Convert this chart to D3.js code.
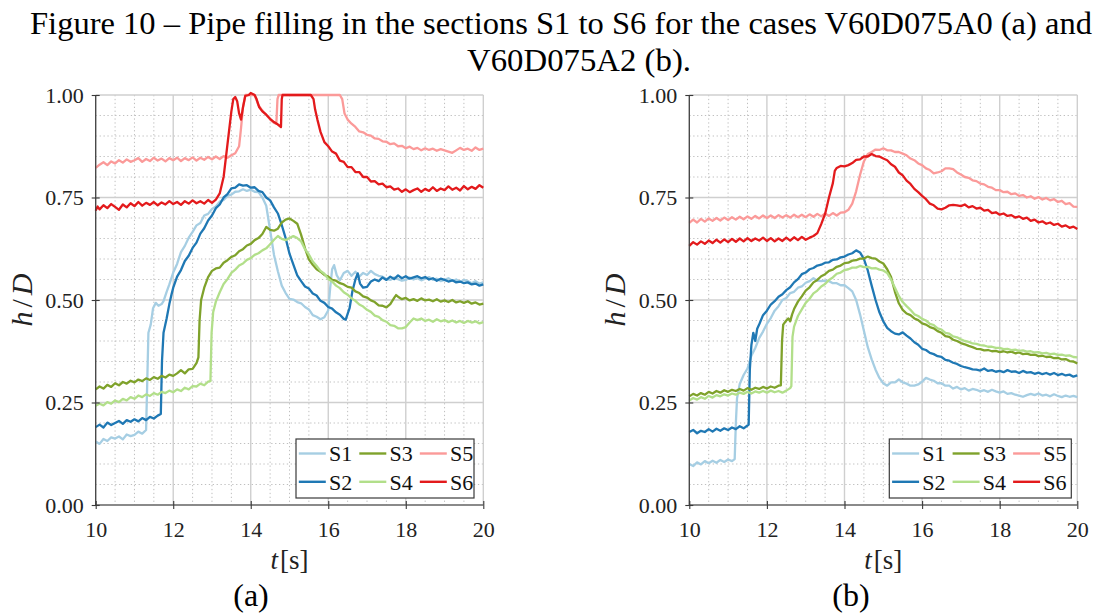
<!DOCTYPE html>
<html>
<head>
<meta charset="utf-8">
<script src="https://cdn.jsdelivr.net/npm/d3@7"></script>
<style>
  html, body { margin: 0; padding: 0; background: #ffffff; }
  svg { display: block; }
  text { font-family: "Liberation Serif", "Times New Roman", serif; }
</style>
</head>
<body>
<svg id="fig" width="1102" height="614"></svg>
<script>
// ---- data -------------------------------------------------------------
const titleLines = [
  "Figure 10 \u2013 Pipe filling in the sections S1 to S6 for the cases V60D075A0 (a) and",
  "V60D075A2 (b)."
];
const timeTicks = [10, 12, 14, 16, 18, 20];
const levelTicks = [0, 0.25, 0.5, 0.75, 1.0];
const sectionNames = ["S1", "S2", "S3", "S4", "S5", "S6"];
const sectionColors = ["#a6cee3", "#1f78b4", "#7fa22b", "#b2df8a", "#fb9a99", "#e31a1c"];
const panelCaptions = ["(a)", "(b)"];

// case V60D075A0 : [t (s), h/D]
const caseA_S1 = [[10.0,0.155],[10.1,0.149],[10.2,0.161],[10.3,0.156],[10.4,0.165],[10.5,0.162],[10.6,0.167],[10.7,0.16],[10.8,0.172],[10.9,0.168],[11.0,0.171],[11.1,0.179],[11.2,0.174],[11.3,0.183],[11.33,0.3],[11.36,0.42],[11.42,0.44],[11.48,0.48],[11.55,0.493],[11.62,0.486],[11.7,0.49],[11.75,0.497],[11.83,0.52],[11.9,0.538],[12.0,0.567],[12.1,0.588],[12.2,0.617],[12.3,0.632],[12.4,0.652],[12.5,0.666],[12.6,0.682],[12.7,0.688],[12.8,0.706],[12.9,0.71],[13.0,0.722],[13.1,0.728],[13.2,0.74],[13.3,0.744],[13.4,0.754],[13.5,0.757],[13.6,0.764],[13.7,0.765],[13.8,0.77],[13.9,0.766],[14.0,0.769],[14.1,0.764],[14.2,0.763],[14.3,0.75],[14.4,0.73],[14.5,0.67],[14.6,0.61],[14.7,0.57],[14.8,0.535],[14.9,0.517],[15.0,0.503],[15.1,0.501],[15.2,0.495],[15.3,0.492],[15.4,0.483],[15.5,0.477],[15.6,0.463],[15.7,0.459],[15.8,0.453],[15.9,0.458],[16.0,0.475],[16.05,0.53],[16.1,0.575],[16.15,0.585],[16.22,0.56],[16.3,0.548],[16.4,0.566],[16.5,0.571],[16.6,0.559],[16.7,0.569],[16.8,0.557],[16.9,0.566],[17.0,0.561],[17.1,0.571],[17.2,0.563],[17.3,0.559],[17.4,0.557],[17.5,0.551],[17.6,0.549],[17.7,0.555],[17.8,0.551],[17.9,0.547],[18.0,0.549],[18.1,0.555],[18.2,0.55],[18.3,0.553],[18.4,0.548],[18.5,0.552],[18.6,0.556],[18.7,0.549],[18.8,0.552],[18.9,0.546],[19.0,0.549],[19.1,0.553],[19.2,0.547],[19.3,0.55],[19.4,0.544],[19.5,0.549],[19.6,0.546],[19.7,0.541],[19.8,0.546],[19.9,0.54],[20.0,0.543]];
const caseA_S2 = [[10.0,0.19],[10.1,0.196],[10.2,0.189],[10.3,0.201],[10.4,0.195],[10.5,0.2],[10.6,0.205],[10.7,0.198],[10.8,0.207],[10.9,0.203],[11.0,0.209],[11.1,0.204],[11.2,0.212],[11.3,0.207],[11.4,0.215],[11.5,0.211],[11.6,0.218],[11.68,0.222],[11.71,0.35],[11.75,0.42],[11.83,0.455],[11.9,0.49],[11.96,0.515],[12.0,0.53],[12.1,0.557],[12.2,0.573],[12.3,0.595],[12.4,0.608],[12.5,0.627],[12.6,0.64],[12.7,0.662],[12.8,0.675],[12.9,0.694],[13.0,0.706],[13.1,0.724],[13.2,0.733],[13.3,0.75],[13.4,0.758],[13.5,0.772],[13.6,0.774],[13.7,0.782],[13.8,0.779],[13.9,0.78],[14.0,0.774],[14.1,0.775],[14.2,0.766],[14.3,0.763],[14.4,0.75],[14.5,0.743],[14.6,0.726],[14.7,0.711],[14.8,0.683],[14.9,0.651],[15.0,0.613],[15.1,0.586],[15.2,0.56],[15.3,0.546],[15.4,0.533],[15.5,0.528],[15.6,0.516],[15.7,0.511],[15.8,0.498],[15.9,0.493],[16.0,0.483],[16.1,0.479],[16.2,0.47],[16.3,0.464],[16.4,0.454],[16.45,0.452],[16.55,0.48],[16.62,0.52],[16.7,0.55],[16.76,0.565],[16.82,0.54],[16.9,0.53],[17.0,0.532],[17.1,0.545],[17.2,0.55],[17.3,0.546],[17.4,0.555],[17.5,0.549],[17.6,0.557],[17.7,0.551],[17.8,0.56],[17.9,0.553],[18.0,0.558],[18.1,0.552],[18.2,0.555],[18.3,0.558],[18.4,0.553],[18.5,0.556],[18.6,0.55],[18.7,0.553],[18.8,0.547],[18.9,0.552],[19.0,0.549],[19.1,0.545],[19.2,0.548],[19.3,0.543],[19.4,0.545],[19.5,0.541],[19.6,0.543],[19.7,0.538],[19.8,0.54],[19.9,0.535],[20.0,0.538]];
const caseA_S3 = [[10.0,0.282],[10.1,0.289],[10.2,0.284],[10.3,0.293],[10.4,0.288],[10.5,0.297],[10.6,0.292],[10.7,0.3],[10.8,0.296],[10.9,0.303],[11.0,0.299],[11.1,0.306],[11.2,0.302],[11.3,0.309],[11.4,0.305],[11.5,0.312],[11.6,0.308],[11.7,0.315],[11.8,0.311],[11.9,0.318],[12.0,0.315],[12.1,0.321],[12.2,0.329],[12.3,0.321],[12.4,0.331],[12.5,0.332],[12.6,0.346],[12.65,0.36],[12.68,0.45],[12.72,0.5],[12.8,0.53],[12.9,0.556],[13.0,0.571],[13.1,0.577],[13.2,0.579],[13.3,0.591],[13.4,0.597],[13.5,0.605],[13.6,0.609],[13.7,0.619],[13.8,0.624],[13.9,0.633],[14.0,0.637],[14.1,0.646],[14.2,0.651],[14.3,0.661],[14.4,0.678],[14.5,0.671],[14.6,0.669],[14.7,0.674],[14.8,0.689],[14.9,0.696],[15.0,0.699],[15.1,0.693],[15.2,0.686],[15.3,0.659],[15.4,0.626],[15.5,0.599],[15.6,0.586],[15.7,0.575],[15.8,0.569],[15.9,0.561],[16.0,0.557],[16.1,0.549],[16.2,0.547],[16.3,0.541],[16.4,0.538],[16.5,0.532],[16.6,0.53],[16.7,0.521],[16.8,0.517],[16.9,0.509],[17.0,0.506],[17.1,0.499],[17.2,0.495],[17.3,0.487],[17.4,0.486],[17.5,0.482],[17.6,0.49],[17.7,0.505],[17.75,0.512],[17.8,0.508],[17.9,0.502],[18.0,0.505],[18.1,0.499],[18.2,0.502],[18.3,0.498],[18.4,0.504],[18.5,0.499],[18.6,0.501],[18.7,0.497],[18.8,0.502],[18.9,0.496],[19.0,0.499],[19.1,0.495],[19.2,0.5],[19.3,0.494],[19.4,0.497],[19.5,0.493],[19.6,0.497],[19.7,0.491],[19.8,0.494],[19.9,0.489],[20.0,0.491]];
const caseA_S4 = [[10.0,0.242],[10.1,0.247],[10.2,0.243],[10.3,0.251],[10.4,0.247],[10.5,0.255],[10.6,0.251],[10.7,0.259],[10.8,0.255],[10.9,0.263],[11.0,0.259],[11.1,0.267],[11.2,0.263],[11.3,0.27],[11.4,0.266],[11.5,0.273],[11.6,0.269],[11.7,0.276],[11.8,0.273],[11.9,0.279],[12.0,0.275],[12.1,0.282],[12.2,0.278],[12.3,0.286],[12.4,0.282],[12.5,0.29],[12.6,0.289],[12.7,0.296],[12.8,0.292],[12.9,0.301],[12.96,0.302],[12.99,0.42],[13.03,0.47],[13.1,0.496],[13.2,0.519],[13.3,0.539],[13.4,0.551],[13.5,0.566],[13.6,0.574],[13.7,0.584],[13.8,0.589],[13.9,0.598],[14.0,0.602],[14.1,0.61],[14.2,0.614],[14.3,0.621],[14.4,0.626],[14.5,0.636],[14.6,0.647],[14.7,0.656],[14.8,0.649],[14.9,0.646],[15.0,0.651],[15.1,0.656],[15.2,0.651],[15.3,0.643],[15.4,0.624],[15.5,0.611],[15.6,0.594],[15.7,0.583],[15.8,0.571],[15.9,0.564],[16.0,0.551],[16.1,0.545],[16.2,0.535],[16.3,0.529],[16.4,0.519],[16.5,0.513],[16.6,0.504],[16.7,0.498],[16.8,0.489],[16.9,0.484],[17.0,0.476],[17.1,0.471],[17.2,0.462],[17.3,0.459],[17.4,0.451],[17.5,0.447],[17.6,0.439],[17.7,0.437],[17.8,0.431],[17.9,0.431],[18.0,0.434],[18.1,0.445],[18.2,0.455],[18.3,0.451],[18.4,0.455],[18.5,0.449],[18.6,0.452],[18.7,0.447],[18.8,0.453],[18.9,0.448],[19.0,0.451],[19.1,0.446],[19.2,0.45],[19.3,0.445],[19.4,0.449],[19.5,0.444],[19.6,0.449],[19.7,0.445],[19.8,0.448],[19.9,0.443],[20.0,0.446]];
const caseA_S5 = [[10.0,0.822],[10.1,0.83],[10.2,0.836],[10.3,0.829],[10.4,0.838],[10.5,0.833],[10.6,0.841],[10.7,0.835],[10.8,0.843],[10.9,0.837],[11.0,0.841],[11.1,0.846],[11.2,0.837],[11.3,0.844],[11.4,0.839],[11.5,0.847],[11.6,0.84],[11.7,0.845],[11.8,0.838],[11.9,0.846],[12.0,0.841],[12.1,0.847],[12.2,0.839],[12.3,0.846],[12.4,0.841],[12.5,0.848],[12.6,0.84],[12.7,0.847],[12.8,0.842],[12.9,0.849],[13.0,0.843],[13.1,0.85],[13.2,0.844],[13.3,0.851],[13.4,0.847],[13.5,0.853],[13.6,0.858],[13.7,0.875],[13.75,0.92],[13.8,0.97],[13.86,1.0],[14.1,1.0],[14.2,0.975],[14.3,0.962],[14.4,0.952],[14.5,0.94],[14.6,0.932],[14.66,0.93],[14.69,0.99],[14.72,1.0],[16.3,1.0],[16.36,0.99],[16.42,0.955],[16.5,0.94],[16.6,0.93],[16.7,0.922],[16.8,0.911],[16.9,0.909],[17.0,0.903],[17.1,0.901],[17.2,0.894],[17.3,0.893],[17.4,0.887],[17.5,0.886],[17.6,0.88],[17.7,0.882],[17.8,0.875],[17.9,0.876],[18.0,0.87],[18.1,0.874],[18.2,0.868],[18.3,0.871],[18.4,0.865],[18.5,0.87],[18.6,0.866],[18.7,0.869],[18.8,0.864],[18.9,0.868],[19.0,0.865],[19.1,0.862],[19.2,0.859],[19.3,0.865],[19.4,0.871],[19.5,0.866],[19.6,0.869],[19.7,0.864],[19.8,0.872],[19.9,0.866],[20.0,0.869]];
const caseA_S6 = [[10.0,0.718],[10.05,0.728],[10.1,0.721],[10.2,0.731],[10.3,0.724],[10.4,0.734],[10.5,0.727],[10.6,0.72],[10.7,0.733],[10.8,0.726],[10.9,0.736],[11.0,0.729],[11.1,0.739],[11.2,0.73],[11.3,0.737],[11.4,0.732],[11.5,0.739],[11.6,0.731],[11.7,0.738],[11.8,0.733],[11.9,0.741],[12.0,0.734],[12.1,0.739],[12.2,0.732],[12.3,0.741],[12.4,0.735],[12.5,0.743],[12.6,0.736],[12.7,0.741],[12.8,0.735],[12.9,0.744],[13.0,0.737],[13.1,0.745],[13.2,0.76],[13.3,0.8],[13.4,0.88],[13.5,0.96],[13.55,0.99],[13.6,0.995],[13.65,0.985],[13.7,0.955],[13.75,0.94],[13.8,0.97],[13.86,0.998],[13.95,1.0],[14.0,1.005],[14.1,1.0],[14.15,0.99],[14.22,0.97],[14.3,0.96],[14.4,0.952],[14.5,0.942],[14.6,0.934],[14.7,0.928],[14.78,0.922],[14.8,0.99],[14.82,1.0],[15.55,1.0],[15.62,0.99],[15.66,0.965],[15.72,0.94],[15.8,0.91],[15.9,0.885],[16.0,0.875],[16.1,0.862],[16.2,0.857],[16.3,0.84],[16.4,0.837],[16.5,0.824],[16.6,0.824],[16.7,0.812],[16.8,0.812],[16.9,0.8],[17.0,0.8],[17.1,0.789],[17.2,0.79],[17.3,0.782],[17.4,0.784],[17.5,0.775],[17.6,0.777],[17.7,0.769],[17.8,0.772],[17.9,0.764],[18.0,0.77],[18.1,0.763],[18.2,0.768],[18.3,0.772],[18.4,0.764],[18.5,0.771],[18.6,0.766],[18.7,0.775],[18.8,0.766],[18.9,0.772],[19.0,0.768],[19.1,0.777],[19.2,0.769],[19.3,0.774],[19.4,0.767],[19.5,0.778],[19.6,0.77],[19.7,0.776],[19.8,0.771],[19.9,0.78],[20.0,0.774]];

// case V60D075A2 : [t (s), h/D]
const caseB_S1 = [[10.0,0.1],[10.1,0.095],[10.2,0.104],[10.3,0.099],[10.4,0.107],[10.5,0.102],[10.6,0.108],[10.7,0.103],[10.8,0.11],[10.9,0.105],[11.0,0.111],[11.1,0.107],[11.17,0.112],[11.2,0.2],[11.23,0.26],[11.3,0.295],[11.4,0.317],[11.5,0.333],[11.6,0.364],[11.7,0.383],[11.8,0.407],[11.9,0.423],[12.0,0.442],[12.1,0.456],[12.2,0.474],[12.3,0.485],[12.4,0.5],[12.5,0.505],[12.6,0.517],[12.7,0.52],[12.8,0.53],[12.9,0.533],[13.0,0.542],[13.1,0.546],[13.2,0.553],[13.3,0.547],[13.4,0.546],[13.5,0.547],[13.6,0.546],[13.7,0.541],[13.8,0.541],[13.9,0.536],[14.0,0.536],[14.1,0.529],[14.2,0.521],[14.3,0.5],[14.4,0.465],[14.5,0.425],[14.6,0.385],[14.7,0.355],[14.8,0.33],[14.9,0.31],[15.0,0.297],[15.1,0.291],[15.2,0.299],[15.3,0.299],[15.4,0.306],[15.5,0.299],[15.6,0.296],[15.7,0.291],[15.8,0.291],[15.9,0.294],[16.0,0.301],[16.1,0.31],[16.2,0.306],[16.3,0.303],[16.4,0.297],[16.5,0.297],[16.6,0.291],[16.7,0.291],[16.8,0.284],[16.9,0.288],[17.0,0.282],[17.1,0.285],[17.2,0.279],[17.3,0.283],[17.4,0.281],[17.5,0.277],[17.6,0.28],[17.7,0.276],[17.8,0.281],[17.9,0.277],[18.0,0.274],[18.1,0.277],[18.2,0.271],[18.3,0.273],[18.4,0.269],[18.5,0.267],[18.6,0.264],[18.7,0.268],[18.8,0.271],[18.9,0.268],[19.0,0.272],[19.1,0.267],[19.2,0.269],[19.3,0.265],[19.4,0.27],[19.5,0.266],[19.6,0.263],[19.7,0.267],[19.8,0.264],[19.9,0.266],[20.0,0.263]];
const caseB_S2 = [[10.0,0.178],[10.1,0.183],[10.2,0.175],[10.3,0.181],[10.4,0.178],[10.5,0.185],[10.6,0.179],[10.7,0.186],[10.8,0.181],[10.9,0.187],[11.0,0.183],[11.1,0.189],[11.2,0.185],[11.3,0.192],[11.4,0.187],[11.5,0.194],[11.53,0.196],[11.56,0.33],[11.6,0.39],[11.65,0.42],[11.7,0.4],[11.75,0.43],[11.8,0.44],[11.9,0.463],[12.0,0.474],[12.1,0.489],[12.2,0.497],[12.3,0.508],[12.4,0.514],[12.5,0.524],[12.6,0.531],[12.7,0.543],[12.8,0.551],[12.9,0.563],[13.0,0.567],[13.1,0.575],[13.2,0.578],[13.3,0.584],[13.4,0.586],[13.5,0.591],[13.6,0.592],[13.7,0.598],[13.8,0.599],[13.9,0.604],[14.0,0.606],[14.1,0.611],[14.2,0.614],[14.3,0.621],[14.4,0.616],[14.5,0.6],[14.6,0.572],[14.7,0.535],[14.8,0.5],[14.9,0.47],[15.0,0.448],[15.1,0.432],[15.2,0.424],[15.3,0.418],[15.4,0.416],[15.5,0.421],[15.6,0.413],[15.7,0.406],[15.8,0.397],[15.9,0.391],[16.0,0.381],[16.1,0.378],[16.2,0.371],[16.3,0.368],[16.4,0.363],[16.5,0.361],[16.6,0.354],[16.7,0.352],[16.8,0.347],[16.9,0.344],[17.0,0.339],[17.1,0.336],[17.2,0.334],[17.3,0.331],[17.4,0.33],[17.5,0.328],[17.6,0.333],[17.7,0.327],[17.8,0.329],[17.9,0.325],[18.0,0.327],[18.1,0.324],[18.2,0.329],[18.3,0.325],[18.4,0.326],[18.5,0.322],[18.6,0.327],[18.7,0.323],[18.8,0.324],[18.9,0.32],[19.0,0.323],[19.1,0.319],[19.2,0.322],[19.3,0.318],[19.4,0.322],[19.5,0.317],[19.6,0.32],[19.7,0.316],[19.8,0.318],[19.9,0.313],[20.0,0.316]];
const caseB_S3 = [[10.0,0.265],[10.1,0.271],[10.2,0.267],[10.3,0.273],[10.4,0.269],[10.5,0.276],[10.6,0.272],[10.7,0.278],[10.8,0.274],[10.9,0.28],[11.0,0.276],[11.1,0.281],[11.2,0.278],[11.3,0.283],[11.4,0.279],[11.5,0.285],[11.6,0.281],[11.7,0.286],[11.8,0.283],[11.9,0.288],[12.0,0.284],[12.1,0.289],[12.2,0.286],[12.3,0.291],[12.36,0.292],[12.39,0.4],[12.42,0.44],[12.5,0.45],[12.55,0.455],[12.6,0.448],[12.65,0.465],[12.7,0.478],[12.8,0.496],[12.9,0.509],[13.0,0.523],[13.1,0.531],[13.2,0.543],[13.3,0.549],[13.4,0.558],[13.5,0.563],[13.6,0.571],[13.7,0.574],[13.8,0.581],[13.9,0.584],[14.0,0.59],[14.1,0.591],[14.2,0.596],[14.3,0.597],[14.4,0.601],[14.5,0.601],[14.6,0.606],[14.7,0.602],[14.8,0.601],[14.9,0.594],[15.0,0.589],[15.1,0.575],[15.2,0.556],[15.3,0.52],[15.4,0.492],[15.5,0.476],[15.6,0.467],[15.7,0.463],[15.8,0.455],[15.9,0.451],[16.0,0.443],[16.1,0.44],[16.2,0.434],[16.3,0.431],[16.4,0.424],[16.5,0.42],[16.6,0.412],[16.7,0.41],[16.8,0.403],[16.9,0.4],[17.0,0.395],[17.1,0.392],[17.2,0.388],[17.3,0.385],[17.4,0.381],[17.5,0.38],[17.6,0.377],[17.7,0.378],[17.8,0.375],[17.9,0.376],[18.0,0.373],[18.1,0.375],[18.2,0.372],[18.3,0.374],[18.4,0.37],[18.5,0.372],[18.6,0.368],[18.7,0.369],[18.8,0.366],[18.9,0.367],[19.0,0.363],[19.1,0.364],[19.2,0.361],[19.3,0.362],[19.4,0.358],[19.5,0.359],[19.6,0.355],[19.7,0.356],[19.8,0.351],[19.9,0.35],[20.0,0.345]];
const caseB_S4 = [[10.0,0.255],[10.1,0.261],[10.2,0.257],[10.3,0.263],[10.4,0.259],[10.5,0.266],[10.6,0.262],[10.7,0.268],[10.8,0.265],[10.9,0.27],[11.0,0.267],[11.1,0.272],[11.2,0.269],[11.3,0.274],[11.4,0.271],[11.5,0.276],[11.6,0.272],[11.7,0.277],[11.8,0.274],[11.9,0.278],[12.0,0.274],[12.1,0.279],[12.2,0.275],[12.3,0.278],[12.4,0.274],[12.5,0.279],[12.6,0.285],[12.63,0.29],[12.66,0.41],[12.7,0.435],[12.8,0.461],[12.9,0.477],[13.0,0.493],[13.1,0.503],[13.2,0.516],[13.3,0.523],[13.4,0.533],[13.5,0.539],[13.6,0.549],[13.7,0.555],[13.8,0.564],[13.9,0.567],[14.0,0.573],[14.1,0.575],[14.2,0.579],[14.3,0.579],[14.4,0.583],[14.5,0.58],[14.6,0.581],[14.7,0.577],[14.8,0.578],[14.9,0.574],[15.0,0.572],[15.1,0.566],[15.2,0.55],[15.3,0.53],[15.4,0.51],[15.5,0.495],[15.6,0.485],[15.7,0.476],[15.8,0.465],[15.9,0.461],[16.0,0.454],[16.1,0.45],[16.2,0.442],[16.3,0.439],[16.4,0.431],[16.5,0.428],[16.6,0.42],[16.7,0.418],[16.8,0.411],[16.9,0.409],[17.0,0.404],[17.1,0.4],[17.2,0.398],[17.3,0.394],[17.4,0.393],[17.5,0.39],[17.6,0.389],[17.7,0.386],[17.8,0.386],[17.9,0.383],[18.0,0.383],[18.1,0.38],[18.2,0.381],[18.3,0.378],[18.4,0.379],[18.5,0.376],[18.6,0.377],[18.7,0.374],[18.8,0.375],[18.9,0.372],[19.0,0.373],[19.1,0.37],[19.2,0.371],[19.3,0.368],[19.4,0.369],[19.5,0.366],[19.6,0.367],[19.7,0.364],[19.8,0.365],[19.9,0.361],[20.0,0.36]];
const caseB_S5 = [[10.0,0.688],[10.1,0.696],[10.2,0.689],[10.3,0.698],[10.4,0.691],[10.5,0.699],[10.6,0.693],[10.7,0.7],[10.8,0.694],[10.9,0.701],[11.0,0.695],[11.1,0.702],[11.2,0.696],[11.3,0.703],[11.4,0.697],[11.5,0.704],[11.6,0.698],[11.7,0.705],[11.8,0.699],[11.9,0.706],[12.0,0.7],[12.1,0.706],[12.2,0.7],[12.3,0.707],[12.4,0.701],[12.5,0.707],[12.6,0.701],[12.7,0.708],[12.8,0.702],[12.9,0.708],[13.0,0.702],[13.1,0.709],[13.2,0.703],[13.3,0.71],[13.4,0.704],[13.5,0.711],[13.6,0.705],[13.7,0.712],[13.8,0.706],[13.9,0.713],[14.0,0.714],[14.1,0.72],[14.2,0.735],[14.3,0.765],[14.4,0.805],[14.5,0.838],[14.6,0.856],[14.7,0.861],[14.8,0.867],[14.9,0.866],[15.0,0.87],[15.1,0.865],[15.2,0.865],[15.3,0.861],[15.4,0.861],[15.5,0.857],[15.6,0.853],[15.7,0.845],[15.8,0.841],[15.9,0.833],[16.0,0.829],[16.1,0.821],[16.2,0.817],[16.3,0.809],[16.4,0.811],[16.5,0.814],[16.6,0.821],[16.7,0.821],[16.8,0.819],[16.9,0.811],[17.0,0.806],[17.1,0.8],[17.2,0.798],[17.3,0.792],[17.4,0.79],[17.5,0.784],[17.6,0.782],[17.7,0.776],[17.8,0.774],[17.9,0.768],[18.0,0.768],[18.1,0.763],[18.2,0.764],[18.3,0.758],[18.4,0.76],[18.5,0.754],[18.6,0.756],[18.7,0.75],[18.8,0.753],[18.9,0.747],[19.0,0.751],[19.1,0.745],[19.2,0.749],[19.3,0.743],[19.4,0.746],[19.5,0.739],[19.6,0.742],[19.7,0.734],[19.8,0.736],[19.9,0.728],[20.0,0.727]];
const caseB_S6 = [[10.0,0.632],[10.1,0.641],[10.2,0.635],[10.3,0.643],[10.4,0.637],[10.5,0.645],[10.6,0.639],[10.7,0.647],[10.8,0.64],[10.9,0.648],[11.0,0.641],[11.1,0.649],[11.2,0.642],[11.3,0.65],[11.4,0.643],[11.5,0.651],[11.6,0.644],[11.7,0.65],[11.8,0.645],[11.9,0.652],[12.0,0.644],[12.1,0.651],[12.2,0.643],[12.3,0.65],[12.4,0.644],[12.5,0.652],[12.6,0.645],[12.7,0.653],[12.8,0.646],[12.9,0.654],[13.0,0.647],[13.1,0.652],[13.2,0.656],[13.3,0.663],[13.4,0.685],[13.5,0.71],[13.6,0.75],[13.7,0.785],[13.75,0.815],[13.8,0.822],[13.9,0.827],[14.0,0.826],[14.1,0.829],[14.2,0.834],[14.3,0.842],[14.4,0.843],[14.5,0.85],[14.6,0.85],[14.7,0.856],[14.8,0.851],[14.9,0.85],[15.0,0.845],[15.1,0.841],[15.2,0.831],[15.3,0.825],[15.4,0.811],[15.5,0.804],[15.6,0.791],[15.7,0.783],[15.8,0.771],[15.9,0.763],[16.0,0.754],[16.1,0.746],[16.2,0.735],[16.3,0.731],[16.4,0.723],[16.5,0.721],[16.6,0.725],[16.7,0.731],[16.8,0.732],[16.9,0.731],[17.0,0.729],[17.1,0.733],[17.2,0.726],[17.3,0.729],[17.4,0.723],[17.5,0.725],[17.6,0.718],[17.7,0.72],[17.8,0.712],[17.9,0.714],[18.0,0.708],[18.1,0.711],[18.2,0.705],[18.3,0.707],[18.4,0.701],[18.5,0.704],[18.6,0.698],[18.7,0.701],[18.8,0.693],[18.9,0.696],[19.0,0.689],[19.1,0.692],[19.2,0.686],[19.3,0.689],[19.4,0.683],[19.5,0.686],[19.6,0.679],[19.7,0.682],[19.8,0.676],[19.9,0.679],[20.0,0.673]];

const caseA = [caseA_S1, caseA_S2, caseA_S3, caseA_S4, caseA_S5, caseA_S6];
const caseB = [caseB_S1, caseB_S2, caseB_S3, caseB_S4, caseB_S5, caseB_S6];

// ---- layout -----------------------------------------------------------
const panels = [
  { series: caseA, left: 95.7, right: 483.3, legendX: 296, legendW: 178, captionX: 251, caption: panelCaptions[0] },
  { series: caseB, left: 689.3, right: 1077.3, legendX: 889.3, legendW: 182, captionX: 851, caption: panelCaptions[1] }
];
const plotTop = 95, plotBottom = 505;
const serif = "Liberation Serif, Times New Roman, serif";

const svg = d3.select("#fig");

function styleText(sel, size) {
  return sel.attr("font-family", serif).style("font-family", serif).style("font-size", size + "px");
}

// title
styleText(svg.append("text"), 32)
  .attr("x", 30).attr("y", 34)
  .attr("textLength", 1062).attr("lengthAdjust", "spacingAndGlyphs")
  .attr("fill", "#000")
  .text(titleLines[0]);
styleText(svg.append("text"), 32)
  .attr("x", 467).attr("y", 71)
  .attr("textLength", 224).attr("lengthAdjust", "spacingAndGlyphs")
  .attr("fill", "#000")
  .text(titleLines[1]);

panels.forEach(p => {
  const x = d3.scaleLinear().domain([10, 20]).range([p.left, p.right]);
  const y = d3.scaleLinear().domain([0, 1]).range([plotBottom, plotTop]);
  const g = svg.append("g");

  // minor grid (dotted): every 0.5 s and every 0.05 h/D
  const minorX = d3.range(21).map(i => 10 + i * 0.5).filter(v => Math.abs(v / 2 - Math.round(v / 2)) > 1e-6);
  const minorY = d3.range(21).map(i => i * 0.05).filter(v => Math.abs(v / 0.25 - Math.round(v / 0.25)) > 1e-6);
  g.append("g").selectAll("line").data(minorX).join("line")
    .attr("x1", d => x(d)).attr("x2", d => x(d))
    .attr("y1", plotTop).attr("y2", plotBottom)
    .attr("stroke", "#b8b8b8").attr("stroke-width", 0.9).attr("stroke-dasharray", "1.3,2.6");
  g.append("g").selectAll("line").data(minorY).join("line")
    .attr("y1", d => y(d)).attr("y2", d => y(d))
    .attr("x1", p.left).attr("x2", p.right)
    .attr("stroke", "#b8b8b8").attr("stroke-width", 0.9).attr("stroke-dasharray", "1.3,2.6");

  // major grid
  g.append("g").selectAll("line").data(timeTicks).join("line")
    .attr("x1", d => x(d)).attr("x2", d => x(d))
    .attr("y1", plotTop).attr("y2", plotBottom)
    .attr("stroke", "#cfcfcf").attr("stroke-width", 1.4);
  g.append("g").selectAll("line").data(levelTicks).join("line")
    .attr("y1", d => y(d)).attr("y2", d => y(d))
    .attr("x1", p.left).attr("x2", p.right)
    .attr("stroke", "#cfcfcf").attr("stroke-width", 1.4);

  // curves, S1 first so S6 ends on top
  const line = d3.line().x(d => x(d[0])).y(d => y(d[1]));
  p.series.forEach((s, i) => {
    g.append("path").datum(s)
      .attr("d", line)
      .attr("fill", "none")
      .attr("stroke", sectionColors[i])
      .attr("stroke-width", 2.3)
      .attr("stroke-linejoin", "round");
  });

  // axes, ticks cross the axis line
  const yAxis = g.append("g").attr("transform", `translate(${p.left},0)`)
    .call(d3.axisLeft(y).tickValues(levelTicks).tickSize(4).tickPadding(8).tickFormat(d3.format(".2f")));
  const xAxis = g.append("g").attr("transform", `translate(0,${plotBottom})`)
    .call(d3.axisBottom(x).tickValues(timeTicks).tickSize(4).tickPadding(12).tickFormat(d3.format("d")));
  [yAxis, xAxis].forEach(ax => {
    ax.attr("font-family", serif).attr("font-size", 22);
    ax.select(".domain").attr("stroke", "#3a3a3a").attr("stroke-width", 1.2);
    ax.selectAll(".tick line").attr("stroke", "#3a3a3a").attr("stroke-width", 1.1);
    styleText(ax.selectAll(".tick text"), 22).attr("fill", "#222");
  });
  yAxis.selectAll(".tick line").attr("x1", 4);
  xAxis.selectAll(".tick line").attr("y1", -4);
  yAxis.select(".domain").attr("d", `M0,${plotBottom}V${plotTop}`);
  xAxis.select(".domain").attr("d", `M${p.left},0H${p.right}`);
  yAxis.selectAll(".tick text").attr("dy", "0.33em");
  xAxis.selectAll(".tick text").attr("dy", "0.71em");

  // axis titles
  const yl = styleText(svg.append("text"), 30)
    .attr("transform", `translate(${p.left - 64},${(plotTop + plotBottom) / 2}) rotate(-90)`)
    .attr("text-anchor", "middle")
    .attr("fill", "#222");
  yl.append("tspan").style("font-style", "italic").text("h");
  yl.append("tspan").attr("dx", 4).text("/");
  yl.append("tspan").attr("dx", 4).style("font-style", "italic").text("D");

  const xl = styleText(svg.append("text"), 27)
    .attr("x", (p.left + p.right) / 2).attr("y", 569)
    .attr("text-anchor", "middle")
    .attr("fill", "#222");
  xl.append("tspan").style("font-style", "italic").text("t");
  xl.append("tspan").attr("dx", 2).text("[s]");

  // legend: three columns of two entries
  const lg = svg.append("g");
  lg.append("rect")
    .attr("x", p.legendX).attr("y", 439)
    .attr("width", p.legendW).attr("height", 59)
    .attr("fill", "#fff").attr("stroke", "#3a3a3a").attr("stroke-width", 1.2);
  sectionNames.forEach((name, i) => {
    const col = Math.floor(i / 2), row = i % 2;
    const cx = p.legendX + col * 60.5;
    const cy = 453.5 + row * 28.3;
    lg.append("line")
      .attr("x1", cx + 2.8).attr("x2", cx + 29.8)
      .attr("y1", cy).attr("y2", cy)
      .attr("stroke", sectionColors[i]).attr("stroke-width", 2.4);
    styleText(lg.append("text"), 22)
      .attr("x", cx + 33).attr("y", cy + 7.8)
      .attr("fill", "#111")
      .text(name);
  });

  // sub-figure caption
  styleText(svg.append("text"), 32)
    .attr("x", p.captionX).attr("y", 606)
    .attr("text-anchor", "middle")
    .attr("fill", "#000")
    .text(p.caption);
});
</script>
</body>
</html>
